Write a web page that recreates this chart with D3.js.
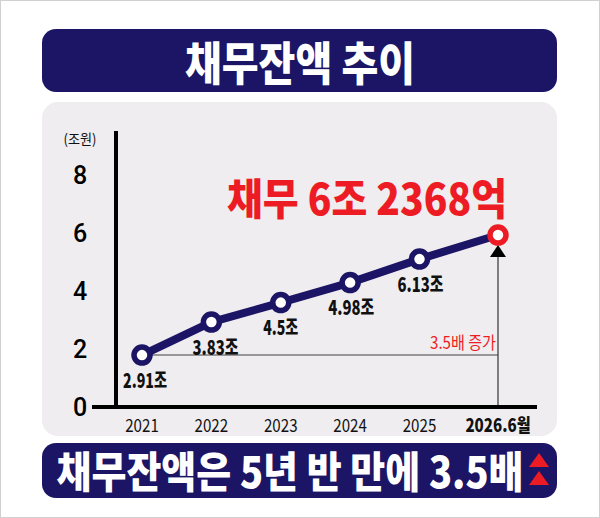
<!DOCTYPE html>
<html>
<head>
<meta charset="utf-8">
<script src="https://cdn.jsdelivr.net/npm/d3@7"></script>
<style>
  html, body { margin: 0; padding: 0; background: #fff; }
  text { font-family: "Noto Sans CJK KR", "Noto Sans", sans-serif; }
</style>
</head>
<body>
<div id="chart"></div>
<script>
// data
const years = ["2021", "2022", "2023", "2024", "2025", "2026.6월"];
const plotted = [1.79, 2.93, 3.6, 4.29, 5.1, 5.93];   // where the dots sit on the axis
const labels = ["2.91조", "3.83조", "4.5조", "4.98조", "6.13조"];
const yTicks = [0, 2, 4, 6, 8];

const width = 600, height = 518;
const navy = "#1c1464", red = "#ed1c24";

const svg = d3.select("#chart").append("svg")
  .attr("width", width)
  .attr("height", height);

svg.append("rect").attr("x", 0.5).attr("y", 0.5)
  .attr("width", width - 1).attr("height", height - 1)
  .attr("fill", "#fff").attr("stroke", "#d0d0d0");

// title bar
svg.append("rect").attr("x", 42).attr("y", 29).attr("width", 515).attr("height", 63)
  .attr("rx", 14).attr("fill", navy);
svg.append("text").attr("x", 300).attr("y", 60)
  .attr("text-anchor", "middle").attr("dominant-baseline", "central")
  .attr("font-size", 46).attr("font-weight", 900).attr("fill", "#fff")
  .attr("textLength", 230).attr("lengthAdjust", "spacingAndGlyphs")
  .text("채무잔액 추이");

// panel
svg.append("rect").attr("x", 42).attr("y", 102).attr("width", 515).attr("height", 334)
  .attr("rx", 16).attr("fill", "#efedef");

// scales
const x = d3.scaleLinear().domain([0, 4, 5]).range([142, 419.5, 498]);
const y = d3.scaleLinear().domain([0, 8]).range([407, 175]);

// reference line from the first dot + arrow up to the last
svg.append("line")
  .attr("x1", x(0)).attr("x2", x(5))
  .attr("y1", y(plotted[0])).attr("y2", y(plotted[0]))
  .attr("stroke", "#7a7a7a").attr("stroke-width", 1.5);
svg.append("line")
  .attr("x1", x(5)).attr("x2", x(5))
  .attr("y1", y(0)).attr("y2", y(plotted[5]) + 20)
  .attr("stroke", "#333").attr("stroke-width", 1.2);
const tipY = y(plotted[5]) + 10;
svg.append("path")
  .attr("d", `M${x(5)},${tipY} L${x(5) - 8},${tipY + 12} L${x(5) + 8},${tipY + 12} Z`)
  .attr("fill", "#000");

svg.append("text").attr("x", x(5) - 2).attr("y", y(plotted[0]) - 6)
  .attr("text-anchor", "end").attr("font-size", 17).attr("font-weight", 400)
  .attr("fill", red).attr("textLength", 66).attr("lengthAdjust", "spacingAndGlyphs")
  .text("3.5배 증가");

// axes
svg.append("line").attr("x1", 116).attr("x2", 116).attr("y1", 131).attr("y2", 409)
  .attr("stroke", "#000").attr("stroke-width", 4);
svg.append("line").attr("x1", 92).attr("x2", 537).attr("y1", y(0)).attr("y2", y(0))
  .attr("stroke", "#000").attr("stroke-width", 4);

svg.selectAll(".ytick").data(yTicks).join("text")
  .attr("class", "ytick")
  .attr("x", 80).attr("y", d => y(d))
  .attr("text-anchor", "middle").attr("dominant-baseline", "central")
  .style("font-family", "Roboto, sans-serif")
  .attr("font-size", 25).attr("font-weight", 500).attr("fill", "#000")
  .text(d => d);

svg.append("text").attr("x", 80).attr("y", 138)
  .attr("text-anchor", "middle").attr("dominant-baseline", "central")
  .attr("font-size", 14).attr("fill", "#111")
  .attr("textLength", 33).attr("lengthAdjust", "spacingAndGlyphs")
  .text("(조원)");

svg.selectAll(".xtick").data(years).join("text")
  .attr("class", "xtick")
  .attr("transform", (d, i) => `translate(${x(i)},${424}) scale(0.84,1)`)
  .attr("text-anchor", "middle").attr("dominant-baseline", "central")
  .attr("font-size", 18)
  .attr("font-weight", (d, i) => i === 5 ? 900 : 400)
  .attr("fill", "#111")
  .text(d => d);

// headline
svg.append("text").attr("x", 367).attr("y", 196)
  .attr("text-anchor", "middle").attr("dominant-baseline", "central")
  .attr("font-size", 43).attr("font-weight", 900).attr("fill", red)
  .attr("textLength", 280).attr("lengthAdjust", "spacingAndGlyphs")
  .text("채무 6조 2368억");

// line + dots
const line = d3.line().x((d, i) => x(i)).y(d => y(d));
svg.append("path").datum(plotted)
  .attr("d", line)
  .attr("fill", "none").attr("stroke", navy).attr("stroke-width", 8)
  .attr("stroke-linejoin", "round");

svg.selectAll(".dot").data(plotted).join("circle")
  .attr("class", "dot")
  .attr("cx", (d, i) => x(i)).attr("cy", d => y(d))
  .attr("r", 8)
  .attr("fill", "#fff")
  .attr("stroke", (d, i) => i === 5 ? red : navy)
  .attr("stroke-width", 5.5);

const labelDx = [3, 4, 0, 1, 1];
const labelWidth = [44, 46, 35, 46, 46];
svg.selectAll(".lbl").data(labels).join("text")
  .attr("class", "lbl")
  .attr("x", (d, i) => x(i) + labelDx[i])
  .attr("y", (d, i) => y(plotted[i]) + 24)
  .attr("text-anchor", "middle").attr("dominant-baseline", "central")
  .attr("font-size", 20).attr("font-weight", 900).attr("fill", "#111")
  .attr("textLength", (d, i) => labelWidth[i]).attr("lengthAdjust", "spacingAndGlyphs")
  .text(d => d);

// bottom bar
svg.append("rect").attr("x", 42).attr("y", 443).attr("width", 515).attr("height", 55)
  .attr("rx", 14).attr("fill", navy);
svg.append("text").attr("x", 290).attr("y", 469)
  .attr("text-anchor", "middle").attr("dominant-baseline", "central")
  .attr("font-size", 43).attr("font-weight", 900).attr("fill", "#fff")
  .attr("textLength", 467).attr("lengthAdjust", "spacingAndGlyphs")
  .text("채무잔액은 5년 반 만에 3.5배");

[453, 471].forEach(t => {
  svg.append("path")
    .attr("d", `M539,${t} L529,${t + 14} L549,${t + 14} Z`)
    .attr("fill", red);
});
</script>
</body>
</html>
